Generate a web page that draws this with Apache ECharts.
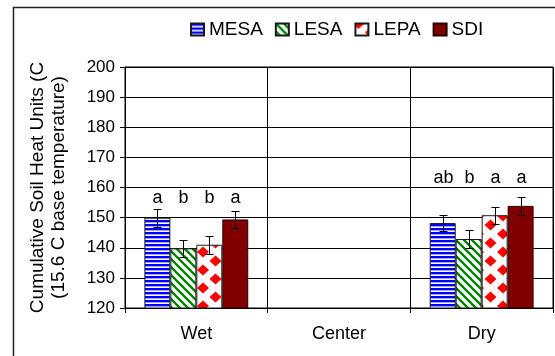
<!DOCTYPE html>
<html>
<head>
<meta charset="utf-8">
<script src="https://cdn.jsdelivr.net/npm/echarts@6.0.0/dist/echarts.min.js"></script>
<style>
  html, body { margin: 0; padding: 0; background: #fff; }
  #chart { width: 555px; height: 356px; }
</style>
</head>
<body>
<div id="chart"></div>
<script>
// Cumulative soil heat units by irrigation system and field position
const categories = ['Wet', 'Center', 'Dry'];
const seriesNames = ['MESA', 'LESA', 'LEPA', 'SDI'];

const mesaValues = [150.0, null, 148.2];
const lesaValues = [139.8, null, 142.9];
const lepaValues = [141.0, null, 150.8];
const sdiValues  = [149.4, null, 153.9];

const mesaErrors = [3.0, null, 2.8];
const lesaErrors = [2.9, null, 3.1];
const lepaErrors = [3.0, null, 2.8];
const sdiErrors  = [2.8, null, 2.9];

// significance letters and the height they are written at in each position
const mesaLetters = ['a', '', 'ab'];
const lesaLetters = ['b', '', 'b'];
const lepaLetters = ['b', '', 'a'];
const sdiLetters  = ['a', '', 'a'];
const letterLevels = [156.6, null, 163.2];

const yTicks = [120, 130, 140, 150, 160, 170, 180, 190, 200];

const FONT = "'Liberation Sans', Arial, sans-serif";
const BAR_FRAC = 0.182;

// ---- fill patterns ----
function tile(w, h, draw) {
  const c = document.createElement('canvas');
  c.width = w; c.height = h;
  const ctx = c.getContext('2d');
  ctx.fillStyle = '#ffffff';
  ctx.fillRect(0, 0, w, h);
  draw(ctx, w, h);
  return c;
}
const stripesH = tile(4, 4, (ctx) => {
  ctx.fillStyle = '#0000ff'; ctx.fillRect(0, 0, 4, 2);
  ctx.fillStyle = '#a0a0ff'; ctx.fillRect(0, 2, 4, 1);
});
const stripesD = tile(8, 8, (ctx, w, h) => {
  ctx.strokeStyle = '#008000';
  ctx.lineWidth = 2.4;
  for (let k = -1; k <= 1; k++) {
    ctx.beginPath();
    ctx.moveTo(k * w - 1, -1);
    ctx.lineTo(k * w + w + 1, h + 1);
    ctx.stroke();
  }
});
const diamonds = tile(25, 18, (ctx, w, h) => {
  ctx.fillStyle = '#ff0000';
  const rx = 6, ry = 5.5, dx = 3;
  const centres = [];
  for (let gx = -1; gx <= 1; gx++) {
    for (let gy = -1; gy <= 1; gy++) {
      centres.push([gx * w + dx, gy * h]);
      centres.push([gx * w + dx + w / 2, gy * h + h / 2]);
    }
  }
  centres.forEach(([x, y]) => {
    ctx.beginPath();
    ctx.moveTo(x, y - ry); ctx.lineTo(x + rx, y); ctx.lineTo(x, y + ry); ctx.lineTo(x - rx, y);
    ctx.closePath(); ctx.fill();
  });
});

const fills = [
  { image: stripesH, repeat: 'repeat' },
  { image: stripesD, repeat: 'repeat' },
  { image: diamonds, repeat: 'repeat' },
  '#800000'
];
const borders = ['#1a1a1a', '#1a1a1a', '#1a1a1a', '#2a0000'];

const valueSets = [mesaValues, lesaValues, lepaValues, sdiValues];
const errorSets = [mesaErrors, lesaErrors, lepaErrors, sdiErrors];
const letterSets = [mesaLetters, lesaLetters, lepaLetters, sdiLetters];

const barSeries = seriesNames.map((name, i) => ({
  name: name,
  type: 'bar',
  data: valueSets[i],
  barWidth: (BAR_FRAC * 100) + '%',
  barGap: '0%',
  itemStyle: { color: fills[i], borderColor: borders[i], borderWidth: 1 },
  emphasis: { disabled: true },
  z: 3
}));

// error bars and letters above each bar
const errorSeries = seriesNames.map((name, i) => ({
  type: 'custom',
  name: name + ' error',
  z: 10,
  silent: true,
  data: valueSets[i].map((v, c) => v == null ? null :
    [c, v, errorSets[i][c], letterLevels[c]]).filter(d => d),
  renderItem: function (params, api) {
    const cat = api.value(0), val = api.value(1), err = api.value(2), lv = api.value(3);
    const letter = letterSets[i][cat];
    const band = api.size([1, 0])[0];
    const bw = band * BAR_FRAC;
    const cx = Math.round(api.coord([cat, val])[0] + (i - 1.5) * bw) + 0.5;
    const top = Math.round(api.coord([cat, val + err])[1]) + 0.5;
    const bot = Math.round(api.coord([cat, val - err])[1]) + 0.5;
    const cap = 4;
    const ly = api.coord([cat, lv])[1];
    const st = { stroke: '#000', lineWidth: 1 };
    return {
      type: 'group',
      children: [
        { type: 'line', shape: { x1: cx, y1: top, x2: cx, y2: bot }, style: st },
        { type: 'line', shape: { x1: cx - cap, y1: top, x2: cx + cap, y2: top }, style: st },
        { type: 'line', shape: { x1: cx - cap, y1: bot, x2: cx + cap, y2: bot }, style: st },
        { type: 'text', style: { text: letter, x: cx, y: ly, align: 'center', verticalAlign: 'middle',
            font: '18px ' + FONT, fill: '#000' } }
      ]
    };
  }
}));

const chart = echarts.init(document.getElementById('chart'), null, { renderer: 'canvas' });
chart.setOption({
  animation: false,
  backgroundColor: '#fff',
  textStyle: { fontFamily: FONT, color: '#000' },
  legend: {
    data: seriesNames,
    icon: 'rect',
    left: 185,
    top: 15,
    itemWidth: 13,
    itemHeight: 12,
    itemGap: 12,
    textStyle: { fontSize: 19, color: '#000', fontFamily: FONT },
    selectedMode: false
  },
  grid: {
    left: 125, right: 2, top: 67, bottom: 48,
    show: true, borderColor: '#000', borderWidth: 1, backgroundColor: 'transparent'
  },
  xAxis: {
    type: 'category',
    data: categories,
    axisLine: { lineStyle: { color: '#000', width: 1 } },
    axisTick: { show: true, inside: false, length: 5, lineStyle: { color: '#000' } },
    axisLabel: { fontSize: 18, color: '#000', margin: 17, fontFamily: FONT },
    splitLine: { show: true, lineStyle: { color: '#000', width: 1 } }
  },
  yAxis: {
    type: 'value',
    min: yTicks[0],
    max: yTicks[yTicks.length - 1],
    interval: yTicks[1] - yTicks[0],
    name: 'Cumulative Soil Heat Units (C\n(15.6 C base temperature)',
    nameLocation: 'middle',
    nameRotate: 90,
    nameGap: 56,
    nameTextStyle: { fontSize: 19, color: '#000', lineHeight: 21, fontFamily: FONT },
    axisLine: { show: true, lineStyle: { color: '#000', width: 1 } },
    axisTick: { show: true, inside: false, length: 5, lineStyle: { color: '#000' } },
    axisLabel: { fontSize: 17, color: '#000', margin: 10, fontFamily: FONT },
    splitLine: { show: true, lineStyle: { color: '#000', width: 1 } }
  },
  graphic: [{
    type: 'rect',
    silent: true,
    z: -1,
    shape: { x: 13.5, y: 7.5, width: 700, height: 500 },
    style: { fill: null, stroke: '#222', lineWidth: 1.5 }
  }],
  series: barSeries.concat(errorSeries)
});
</script>
</body>
</html>
